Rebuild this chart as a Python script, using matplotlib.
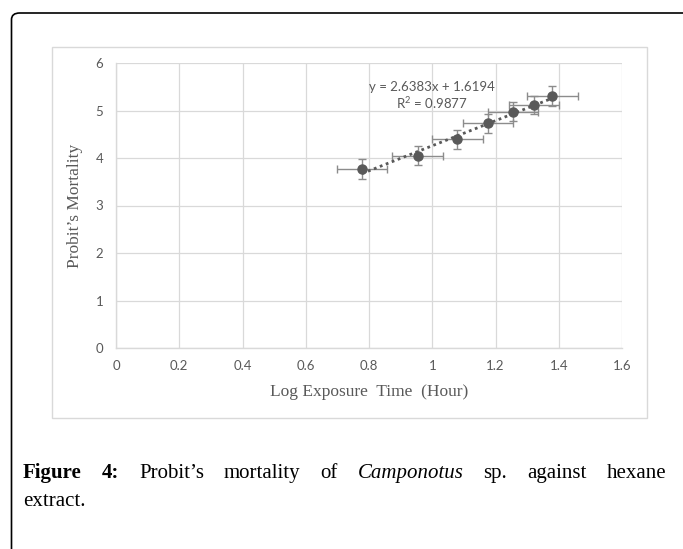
import matplotlib
matplotlib.use("Agg")
import matplotlib.pyplot as plt
from matplotlib.patches import FancyBboxPatch, Rectangle

# 数据：暴露时间对数与概率单位死亡率
log_time = [0.778, 0.954, 1.079, 1.176, 1.255, 1.322, 1.380]
probit = [3.77, 4.05, 4.39, 4.73, 4.97, 5.11, 5.31]
x_err = [0.08, 0.08, 0.08, 0.08, 0.08, 0.08, 0.08]
y_err = [0.21, 0.20, 0.21, 0.20, 0.20, 0.19, 0.21]
# 趋势线系数
slope = 2.6383
intercept = 1.6194
r2 = 0.9877
x_ticks = [0, 0.2, 0.4, 0.6, 0.8, 1.0, 1.2, 1.4, 1.6]
x_tick_labels = ["0", "0.2", "0.4", "0.6", "0.8", "1", "1.2", "1.4", "1.6"]
y_ticks = [0, 1, 2, 3, 4, 5, 6]

plt.rcParams["mathtext.fontset"] = "custom"
plt.rcParams["mathtext.rm"] = "Lato"

W, H = 683, 549
fig = plt.figure(figsize=(W / 100, H / 100), dpi=100)

# 外框（黑色，左上圆角）和图表区边框（浅灰）
fig.patches.append(FancyBboxPatch((11.5 / W, -0.2), 1.2, 1 - 13 / H + 0.2,
                                  boxstyle="round,pad=0,rounding_size=0.012",
                                  transform=fig.transFigure, fill=False,
                                  edgecolor="black", linewidth=1.2))
fig.patches.append(Rectangle((52 / W, 1 - 418 / H), (647 - 52) / W, (418 - 47) / H,
                             transform=fig.transFigure, fill=False,
                             edgecolor="#d9d9d9", linewidth=1))

ax = fig.add_axes([116 / W, 1 - 348 / H, (622 - 116) / W, (348 - 63) / H])
gray = "#595959"
grid = "#d9d9d9"

ax.errorbar(log_time, probit, xerr=x_err, yerr=y_err, fmt="o", color=gray,
            markersize=6.5, ecolor="#8c8c8c", elinewidth=1, capsize=3,
            capthick=1, zorder=3)

# 线性趋势线
tx = [min(log_time), max(log_time)]
ty = [slope * v + intercept for v in tx]
ax.plot(tx, ty, color=gray, linestyle=(0, (1, 1.3)), linewidth=2, zorder=4)

ax.text(1.0, 5.50, "y = %.4fx + %.4f" % (slope, intercept), ha="center",
        va="center", fontsize=9.5, color=gray, family="Lato")
ax.text(1.0, 5.16, "R$^\\mathregular{2}$ = %.4f" % r2, ha="center", va="center",
        fontsize=9.5, color=gray, family="Lato")

ax.set_xlim(0, 1.6)
ax.set_ylim(0, 6)
ax.set_xticks(x_ticks)
ax.set_xticklabels(x_tick_labels)
ax.set_yticks(y_ticks)
ax.grid(True, color=grid, linewidth=0.9)
ax.set_axisbelow(True)
for s in ["top", "right"]:
    ax.spines[s].set_visible(False)
for s in ["left", "bottom"]:
    ax.spines[s].set_color(grid)
    ax.spines[s].set_linewidth(1)
ax.tick_params(length=0, labelsize=9.5, labelcolor=gray, pad=9)
for lab in ax.get_xticklabels() + ax.get_yticklabels():
    lab.set_family("Lato")

ax.set_xlabel("Log Exposure  Time  (Hour)", fontsize=12.5, color=gray,
              family="Liberation Serif", labelpad=8)
ax.set_ylabel("Probit\u2019s Mortality", fontsize=12.5, color=gray,
              family="Liberation Serif", labelpad=9)

# 图注：两端对齐，逐词放置
cap_words = ["Figure", "4:", "Probit\u2019s", "mortality", "of", "Camponotus",
             "sp.", "against", "hexane"]
cap_weight = ["bold", "bold"] + ["normal"] * 7
cap_style = ["normal"] * 5 + ["italic"] + ["normal"] * 3
x0, x1 = 23, 666
renderer = fig.canvas.get_renderer()
items = []
for w, wt, st in zip(cap_words, cap_weight, cap_style):
    t = fig.text(0, 1 - 478 / H, w, fontsize=15, family="Liberation Serif",
                 weight=wt, style=st, ha="left", va="baseline", color="black")
    items.append((t, t.get_window_extent(renderer).width))
gap = (x1 - x0 - sum(wd for _, wd in items)) / (len(items) - 1)
xp = x0
for t, wd in items:
    t.set_x(xp / W)
    xp += wd + gap
fig.text(23 / W, 1 - 506 / H, "extract.", fontsize=15, family="Liberation Serif",
         ha="left", va="baseline", color="black")

fig.savefig("out.png", dpi=100)
